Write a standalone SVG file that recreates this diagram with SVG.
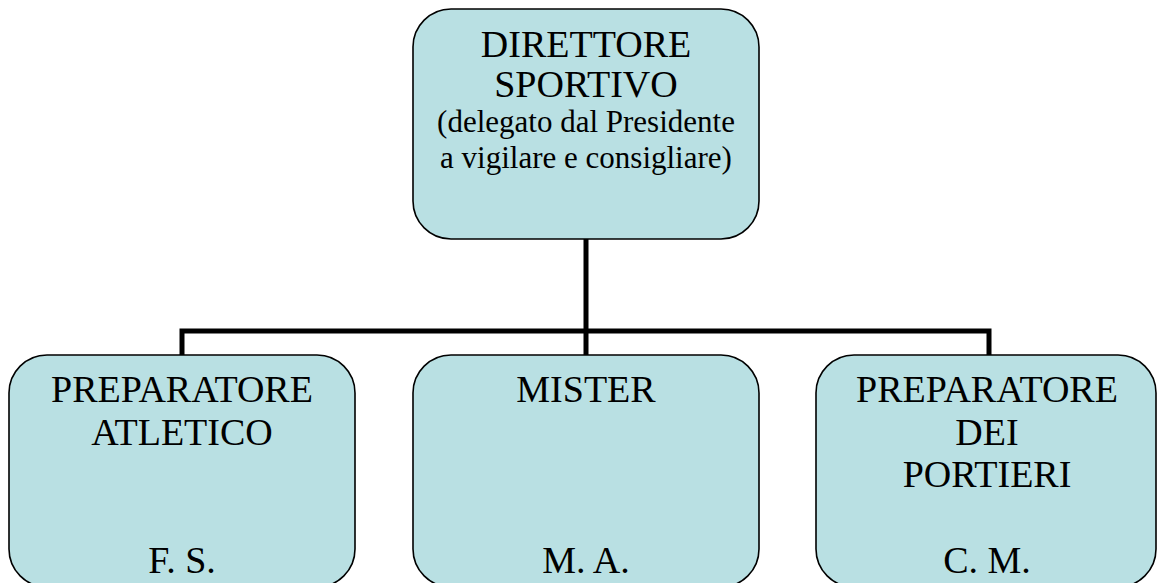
<svg xmlns="http://www.w3.org/2000/svg" width="1157" height="583" viewBox="0 0 1157 583">
<style>
.box{fill:#B9E0E3;stroke:#000;stroke-width:1.6}
.t{font-family:"Liberation Serif","Times New Roman",serif;font-size:38px;fill:#000;text-anchor:middle}
.s{font-size:31px}
.conn{fill:none;stroke:#000;stroke-width:5;stroke-linecap:square}
</style>
<rect width="1157" height="583" fill="#fff"/>
<g id="connectors">
<path class="conn" d="M586,239 V331 M182,331 H989 M182,331 V355 M586,331 V355 M989,331 V355"/>
</g>
<g id="direttore">
<rect class="box" x="413" y="9" width="346" height="230" rx="38"/>
<text class="t" x="586" y="57">DIRETTORE</text>
<text class="t" x="586" y="97">SPORTIVO</text>
<text class="t s" x="586" y="132">(delegato dal Presidente</text>
<text class="t s" x="586" y="168">a vigilare e consigliare)</text>
</g>
<g id="preparatore-atletico">
<rect class="box" x="9" y="355" width="346" height="232" rx="38"/>
<text class="t" x="182" y="402">PREPARATORE</text>
<text class="t" x="182" y="445">ATLETICO</text>
<text class="t" x="182" y="573">F. S.</text>
</g>
<g id="mister">
<rect class="box" x="413" y="355" width="346" height="232" rx="38"/>
<text class="t" x="586" y="402">MISTER</text>
<text class="t" x="586" y="573">M. A.</text>
</g>
<g id="preparatore-portieri">
<rect class="box" x="816" y="355" width="340" height="232" rx="38"/>
<text class="t" x="987" y="402">PREPARATORE</text>
<text class="t" x="987" y="445">DEI</text>
<text class="t" x="987" y="487">PORTIERI</text>
<text class="t" x="987" y="573">C. M.</text>
</g>
</svg>
